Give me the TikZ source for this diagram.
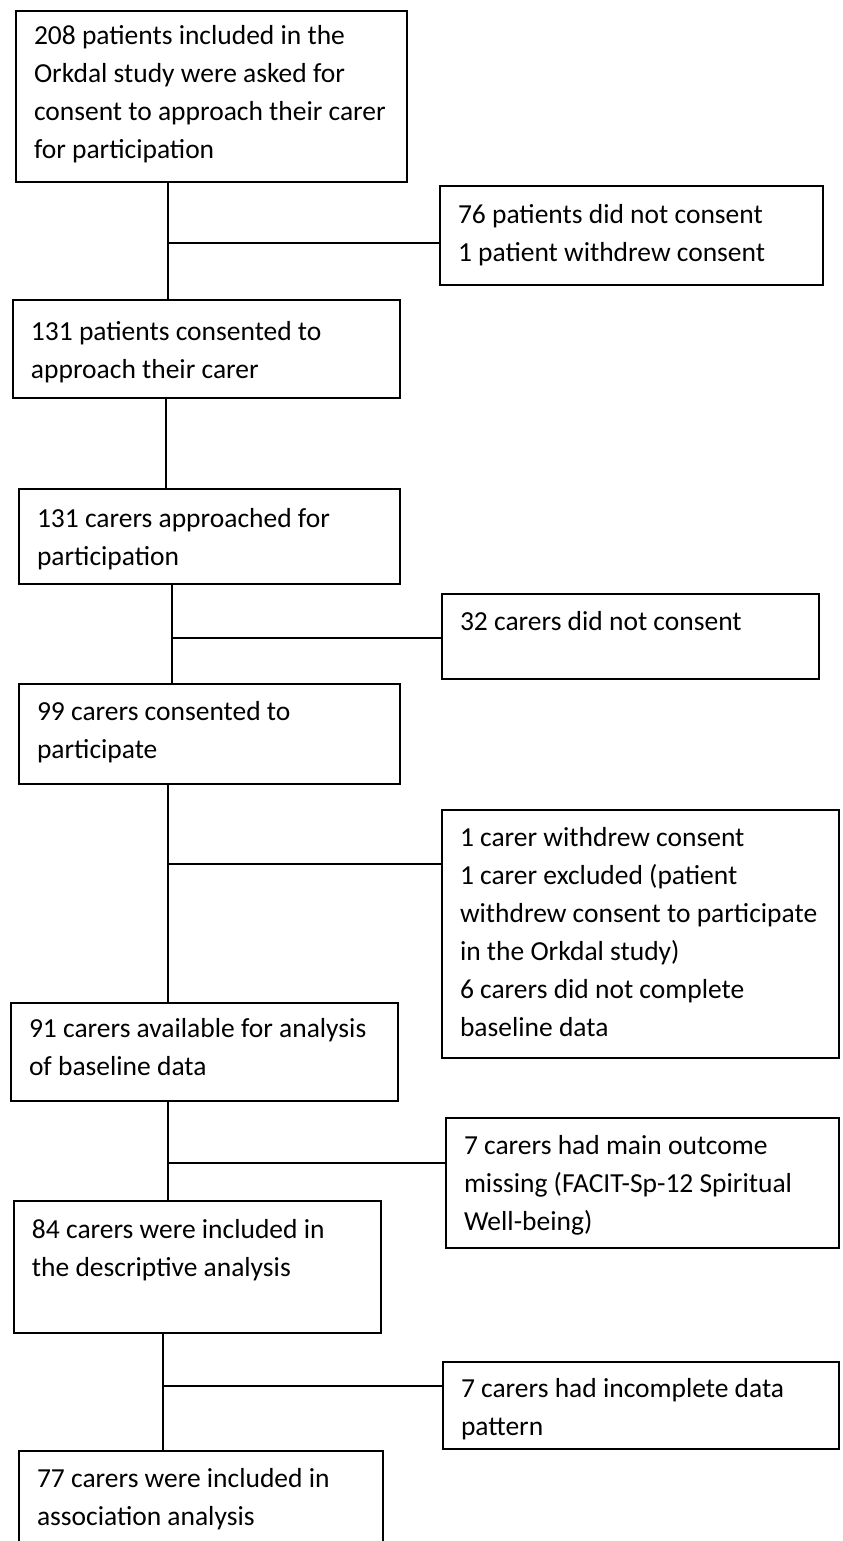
\documentclass[tikz,border=0pt]{standalone}
\usepackage{fontspec}
\setmainfont{Carlito}
\tikzset{
  flowbox/.style={draw, rectangle, anchor=north west, align=flush left,
    inner xsep=9pt, inner ysep=0pt, outer sep=0pt, line width=0.75pt,
    font=\fontsize{13.75}{19}\selectfont},
  boxdim/.style n args={3}{text width=#1, text height=#2, text depth=#3},
}
\begin{document}
\begin{tikzpicture}[x=0.5pt, y=-0.5pt]
  \useasboundingbox (0,0) rectangle (842,1541);
  % main column
  \node[flowbox, boxdim={177.5pt}{17pt}{68.5pt}] (b1) at (16,11)
    {208 patients included in the\\Orkdal study were asked for\\consent to approach their carer\\for participation};
  \node[flowbox, boxdim={175.5pt}{20pt}{29pt}] (b2) at (13,300)
    {131 patients consented to\\approach their carer};
  \node[flowbox, boxdim={172.5pt}{19pt}{28.5pt}] (b3) at (19,489)
    {131 carers approached for\\participation};
  \node[flowbox, boxdim={172.5pt}{18pt}{32pt}] (b4) at (19,684)
    {99 carers consented to\\participate};
  \node[flowbox, boxdim={175.5pt}{17pt}{32pt}] (b5) at (11,1003)
    {91 carers available for analysis\\of baseline data};
  \node[flowbox, boxdim={165.5pt}{18.5pt}{47.5pt}] (b6) at (14,1201)
    {84 carers were included in\\the descriptive analysis};
  \node[flowbox, boxdim={164pt}{18pt}{45pt}] (b7) at (19,1451)
    {77 carers were included in\\association analysis};
  % exclusions
  \node[flowbox, boxdim={173.5pt}{18.5pt}{31pt}] (x1) at (440,186)
    {76 patients did not consent\\1 patient withdrew consent};
  \node[flowbox, boxdim={170.5pt}{18pt}{24.5pt}] (x2) at (442,594)
    {32 carers did not consent};
  \node[flowbox, boxdim={180.5pt}{18pt}{106pt}] (x3) at (442,810)
    {1 carer withdrew consent\\1 carer excluded (patient\\withdrew consent to participate\\in the Orkdal study)\\6 carers did not complete\\baseline data};
  \node[flowbox, boxdim={178.5pt}{18pt}{47pt}] (x4) at (446,1118)
    {7 carers had main outcome\\missing (FACIT-Sp-12 Spiritual\\Well-being)};
  \node[flowbox, boxdim={180pt}{17.5pt}{26pt}] (x5) at (443,1362)
    {7 carers had incomplete data\\pattern};
  % junctions
  \coordinate (j1) at (168,243);
  \coordinate (j2) at (166,440);
  \coordinate (j3) at (172,638);
  \coordinate (j4) at (168,864);
  \coordinate (j5) at (168,1163);
  \coordinate (j6) at (163,1386);
  \begin{scope}[line width=0.7pt]
    \draw (b1.south -| j1) -- (b2.north -| j1);
    \draw (j1) -- (j1 -| x1.west);
    \draw (b2.south -| j2) -- (b3.north -| j2);
    \draw (b3.south -| j3) -- (b4.north -| j3);
    \draw (j3) -- (j3 -| x2.west);
    \draw (b4.south -| j4) -- (b5.north -| j4);
    \draw (j4) -- (j4 -| x3.west);
    \draw (b5.south -| j5) -- (b6.north -| j5);
    \draw (j5) -- (j5 -| x4.west);
    \draw (b6.south -| j6) -- (b7.north -| j6);
    \draw (j6) -- (j6 -| x5.west);
  \end{scope}
\end{tikzpicture}
\end{document}
